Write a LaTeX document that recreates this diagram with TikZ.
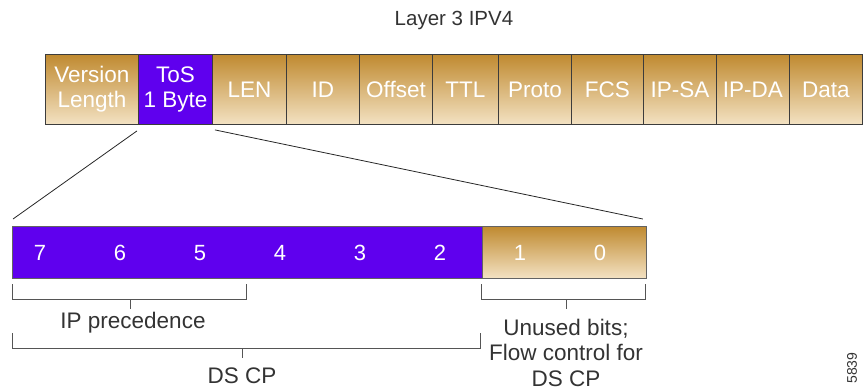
\documentclass[tikz,border=0pt]{standalone}
\usepackage{fontspec}
\setmainfont{Liberation Sans}
\definecolor{gold}{HTML}{C08A30}
\definecolor{goldlt}{HTML}{F3E2C3}
\definecolor{tospurple}{HTML}{5F00EE}
\definecolor{edgecol}{HTML}{3C3C3C}
\definecolor{txtcol}{HTML}{333333}
\definecolor{brkcol}{HTML}{555555}
\begin{document}
\begin{tikzpicture}[x=1pt,y=-1pt,
  cell/.style={draw=edgecol, line width=0.9pt, minimum height=70pt, inner sep=0pt,
    text=white, font=\fontsize{22.5}{25}\selectfont, align=center, anchor=north west},
  goldcell/.style={cell, top color=gold, middle color=gold, bottom color=goldlt},
  purplecell/.style={cell, fill=tospurple},
  bar/.style={draw=edgecol!80, line width=0.9pt, minimum height=52pt, inner sep=0pt, anchor=north west},
  digit/.style={text=white, font=\fontsize{22}{25}\selectfont},
  lbl/.style={text=txtcol, font=\fontsize{22.5}{26}\selectfont, align=center},
  link/.style={draw=black!85, line width=0.8pt},
  brk/.style={draw=brkcol, line width=0.9pt}
]
\useasboundingbox (0,0) rectangle (864,391);
\node[lbl, font=\fontsize{20.5}{24}\selectfont] (title) at (454,20) {Layer 3 IPV4};
% top header
\node[goldcell, minimum width=93pt] (ver) at (45,54) {Version\\Length};
\node[purplecell, minimum width=74pt] (tos) at (138,54) {ToS\\1 Byte};
\node[goldcell, minimum width=74pt] (len) at (212,54) {LEN};
\node[goldcell, minimum width=73pt] (id) at (286,54) {ID};
\node[goldcell, minimum width=73pt] (off) at (359,54) {Offset};
\node[goldcell, minimum width=66pt] (ttl) at (432,54) {TTL};
\node[goldcell, minimum width=73pt] (proto) at (498,54) {Proto};
\node[goldcell, minimum width=72pt] (fcs) at (571,54) {FCS};
\node[goldcell, minimum width=73pt] (ipsa) at (643,54) {IP-SA};
\node[goldcell, minimum width=73pt] (ipda) at (716,54) {IP-DA};
\node[goldcell, minimum width=73pt] (data) at (789,54) {Data};
% ToS expansion
\node[bar, fill=tospurple, minimum width=470pt] (dsbar) at (12,226) {};
\node[bar, top color=gold, middle color=gold, bottom color=goldlt, minimum width=164pt] (unused) at (482,226) {};
\foreach \d/\x in {7/40,6/120,5/200,4/280,3/360,2/440,1/520,0/600}
  \node[digit] (b\d) at (\x,253) {\d};
% connectors
\draw[link] ([shift={(-1,6)}]tos.south west) -- ([shift={(1,-7)}]dsbar.north west);
\draw[link] ([shift={(2,5)}]tos.south east) -- ([shift={(-4,-7)}]unused.north east);
% brackets
\coordinate (ipA) at (12,284); \coordinate (ipB) at (246,284);
\coordinate (ipT) at (130,299); \coordinate (ipTe) at (130,309);
\draw[brk] (ipA) -- (12,299) -- (246,299) -- (ipB);
\draw[brk] (ipT) -- (ipTe);
\node[lbl] (iplbl) at (133,323) {IP precedence};
\coordinate (dsA) at (12,333); \coordinate (dsB) at (480,333);
\coordinate (dsT) at (242,348); \coordinate (dsTe) at (242,358);
\draw[brk] (dsA) -- (12,348) -- (480,348) -- (dsB);
\draw[brk] (dsT) -- (dsTe);
\node[lbl] (dslbl) at (242,376) {DS CP};
\coordinate (unA) at (481,284); \coordinate (unB) at (645,284);
\coordinate (unT) at (566,299); \coordinate (unTe) at (566,309);
\draw[brk] (unA) -- (481,299) -- (645,299) -- (unB);
\draw[brk] (unT) -- (unTe);
\node[lbl, font=\fontsize{22.5}{25.5}\selectfont, inner sep=1pt] (unlbl) at (566,352.5) {Unused bits;\\Flow control for\\DS CP};
\node[text=txtcol, font=\fontsize{14}{16}\selectfont, rotate=90] (fig) at (852,368) {5839};
\end{tikzpicture}
\end{document}
